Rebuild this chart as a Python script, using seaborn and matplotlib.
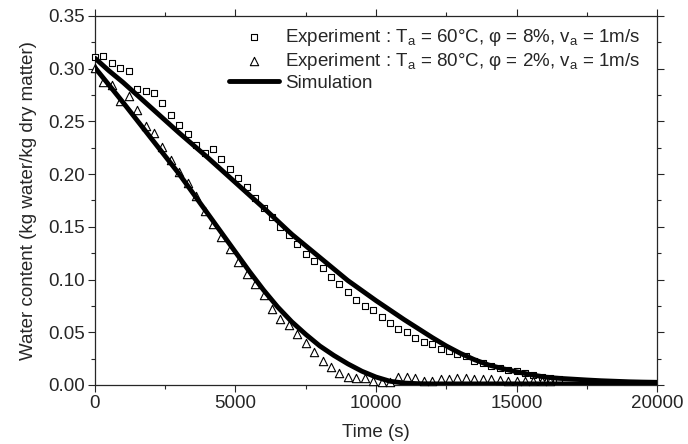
import numpy as np
import pandas as pd
import matplotlib.pyplot as plt
import matplotlib.ticker as mticker
import seaborn as sns

# experimental points, one every 300 s
t_exp60 = np.arange(0, 16800, 300)
w_exp60 = [0.311, 0.312, 0.305, 0.301, 0.298, 0.281, 0.279, 0.277, 0.267, 0.256,
           0.247, 0.238, 0.228, 0.220, 0.224, 0.214, 0.205, 0.196, 0.188, 0.177,
           0.168, 0.159, 0.150, 0.142, 0.134, 0.124, 0.118, 0.111, 0.102, 0.096,
           0.088, 0.081, 0.075, 0.071, 0.064, 0.059, 0.053, 0.050, 0.045, 0.041,
           0.039, 0.034, 0.032, 0.029, 0.027, 0.023, 0.021, 0.018, 0.016, 0.014,
           0.013, 0.011, 0.0095, 0.008, 0.0066, 0.0057]

t_exp80 = np.arange(0, 16500, 300)
w_exp80 = [0.301, 0.287, 0.285, 0.269, 0.274, 0.261, 0.246, 0.239, 0.226, 0.213,
           0.202, 0.192, 0.179, 0.165, 0.153, 0.140, 0.129, 0.117, 0.105, 0.096,
           0.085, 0.072, 0.063, 0.057, 0.048, 0.040, 0.031, 0.023, 0.017, 0.011,
           0.008, 0.0064, 0.0069, 0.0041, 0.0031, 0.0031, 0.0079, 0.0079, 0.0064, 0.0041,
           0.004, 0.006, 0.006, 0.007, 0.007, 0.006, 0.006, 0.0055, 0.0045, 0.004,
           0.004, 0.004, 0.004, 0.004, 0.004]

# simulation curves, read every 500 s
t_sim = np.arange(0, 20500, 500)
w_sim60 = [0.310, 0.298, 0.287, 0.275, 0.263, 0.251, 0.239, 0.2275, 0.216, 0.204,
           0.192, 0.180, 0.168, 0.1555, 0.143, 0.132, 0.121, 0.110, 0.099, 0.0895,
           0.080, 0.071, 0.062, 0.0535, 0.045, 0.037, 0.030, 0.024, 0.019, 0.0155,
           0.0125, 0.0098, 0.0075, 0.0063, 0.0055, 0.0047, 0.004, 0.0035, 0.003, 0.0027,
           0.0025]
w_sim80 = [0.301, 0.2845, 0.268, 0.251, 0.234, 0.217, 0.200, 0.1815, 0.163, 0.1445,
           0.126, 0.1075, 0.090, 0.074, 0.060, 0.048, 0.037, 0.028, 0.020, 0.013,
           0.0075, 0.0035, 0.0018, 0.0012, 0.001, 0.001, 0.001, 0.001, 0.001, 0.001,
           0.001, 0.001, 0.001, 0.001, 0.001, 0.001, 0.001, 0.001, 0.001, 0.001,
           0.001]

labels = ["Experiment : T$\\mathregular{_a}$ = 60°C, φ = 8%, v$\\mathregular{_a}$ = 1m/s",
          "Experiment : T$\\mathregular{_a}$ = 80°C, φ = 2%, v$\\mathregular{_a}$ = 1m/s",
          "Simulation"]

exp60 = pd.DataFrame({"t": t_exp60, "w": w_exp60})
exp80 = pd.DataFrame({"t": t_exp80, "w": w_exp80})
sim60 = pd.DataFrame({"t": t_sim, "w": w_sim60})
sim80 = pd.DataFrame({"t": t_sim, "w": w_sim80})

sns.set_style("ticks")
plt.rcParams['font.family'] = ['Liberation Sans', 'DejaVu Sans']
plt.rcParams['mathtext.fontset'] = 'custom'
plt.rcParams['mathtext.rm'] = 'Liberation Sans'

fig, ax = plt.subplots(figsize=(6.88, 4.44), dpi=100)
fig.subplots_adjust(left=0.138, right=0.955, top=0.964, bottom=0.133)

sns.scatterplot(data=exp60, x="t", y="w", ax=ax, marker="s", s=24,
                facecolor="white", edgecolor="black", linewidth=0.8,
                label=labels[0], zorder=3, clip_on=False)
sns.scatterplot(data=exp80, x="t", y="w", ax=ax, marker="^", s=36,
                facecolor="white", edgecolor="black", linewidth=0.8,
                label=labels[1], zorder=3, clip_on=False)
sns.lineplot(data=sim60, x="t", y="w", ax=ax, color="black",
             linewidth=3.5, label=labels[2], zorder=4)
sns.lineplot(data=sim80, x="t", y="w", ax=ax, color="black",
             linewidth=3.5, zorder=4)

ax.set_xlim(0, 20000)
ax.set_ylim(0, 0.35)
ax.xaxis.set_major_locator(mticker.MultipleLocator(5000))
ax.xaxis.set_minor_locator(mticker.MultipleLocator(2500))
ax.yaxis.set_major_locator(mticker.MultipleLocator(0.05))
ax.yaxis.set_minor_locator(mticker.MultipleLocator(0.025))
ax.yaxis.set_major_formatter(mticker.FormatStrFormatter("%.2f"))
ax.tick_params(which="both", direction="out", top=True, right=True, labelsize=13.5,
               pad=2)
ax.tick_params(which="major", length=5, width=0.8)
ax.tick_params(which="minor", length=3, width=0.8)
for sp in ax.spines.values():
    sp.set_linewidth(0.9)

ax.set_xlabel("Time (s)", fontsize=13.5, labelpad=9)
ax.set_ylabel("Water content (kg water/kg dry matter)", fontsize=13.5, labelpad=8)

ax.legend(loc="upper right", frameon=False, fontsize=13.5, handlelength=2.7,
          labelspacing=0.15, handletextpad=0.3, borderaxespad=0.2,
          bbox_to_anchor=(0.99, 1.0))

fig.savefig("out.png", dpi=100)
